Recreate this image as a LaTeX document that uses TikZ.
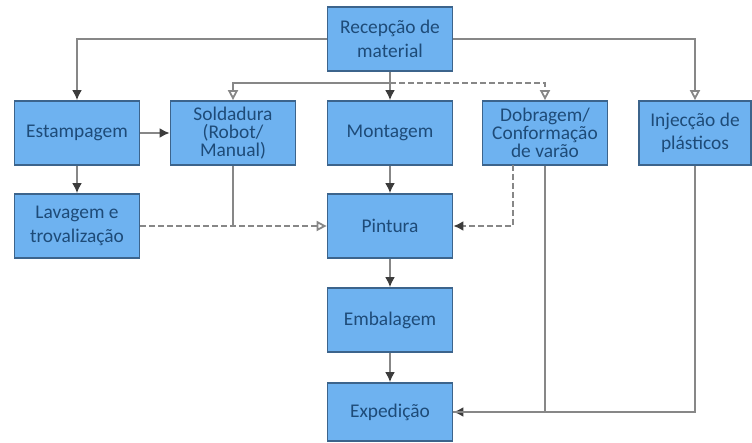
\documentclass[tikz,border=0pt]{standalone}
\usepackage{fontspec}
\setmainfont{Carlito}
\usetikzlibrary{positioning,arrows.meta}
\definecolor{boxfill}{RGB}{110,178,240}
\definecolor{boxline}{RGB}{60,100,140}
\definecolor{boxtext}{RGB}{30,75,120}
\definecolor{linkgray}{RGB}{135,135,135}
\definecolor{tipgray}{RGB}{60,60,60}

\begin{document}
\begin{tikzpicture}[x=0.5pt,y=-0.5pt]
 \tikzset{box/.style={draw=boxline,fill=boxfill,text=boxtext,line width=0.9pt,minimum width=62.5pt,minimum height=32pt,align=center,inner sep=1pt,font=\fontsize{9.7}{11.8}\selectfont},
  tight/.style={font=\fontsize{9.7}{9}\selectfont},
  link/.style={draw=linkgray,line width=0.9pt},
  arrow/.style={link,-{Latex[length=5pt,width=5pt,color=tipgray]}},
  openarrow/.style={link,-{Triangle[open,length=5pt,width=5pt]}},
  dashlink/.style={dash pattern=on 3pt off 1.5pt}}
 \useasboundingbox (0,0) rectangle (752,443);
 \node[box] (Rec) at (390,39) {Recepção de\\material};
 \node[box] (Est) at (77,133) {Estampagem};
 \node[box,tight] (Sol) at (233,133) {Soldadura\\(Robot/\\Manual)};
 \node[box] (Mon) at (390,133) {Montagem};
 \node[box,tight] (Dob) at (545,133) {Dobragem/\\Conformação\\de varão};
 \node[box,minimum width=56pt] (Inj) at (695,133) {Injecção de\\plásticos};
 \node[box] (Lav) at (77,226) {Lavagem e\\trovalização};
 \node[box] (Pin) at (390,226) {Pintura};
 \node[box] (Emb) at (390,320) {Embalagem};
 \node[box,minimum height=29pt] (Exp) at (390,412) {Expedição};
 \coordinate (split) at (390,83);
 \coordinate (DobL) at (513,165);

 \draw[arrow] (Rec.west) -| (Est.north);
 \draw[openarrow] (Rec.east) -| (Inj.north);
 \draw[arrow] (Rec) -- (Mon);
 \draw[openarrow] (split) -| (Sol.north);
 \draw[openarrow,dashlink] (split) -| (Dob.north);
 \draw[arrow] (Est) -- (Sol);
 \draw[arrow] (Est) -- (Lav);
 \draw[openarrow,dashlink] (Lav) -- (Pin);
 \draw[link] (Sol.south) -- (Sol.south |- Lav.east);
 \draw[arrow] (Mon) -- (Pin);
 \draw[arrow,dashlink] (DobL) |- (Pin.east);
 \draw[arrow] (Dob.south) |- (Exp.east);
 \draw[link] (Inj.south) |- (Exp.east);
 \draw[arrow] (Pin) -- (Emb);
 \draw[arrow] (Emb) -- (Exp);
\end{tikzpicture}
\end{document}
